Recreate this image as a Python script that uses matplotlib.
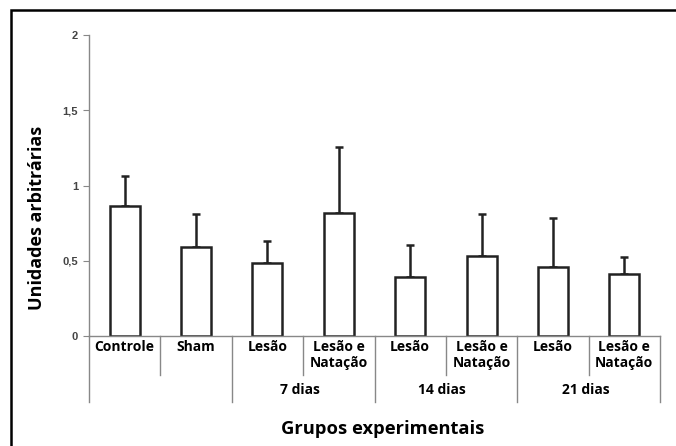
import numpy as np
import matplotlib
matplotlib.use("Agg")
import matplotlib.pyplot as plt
from matplotlib.transforms import blended_transform_factory
from matplotlib.patches import Rectangle

plt.rcParams["font.family"] = ["Open Sans", "DejaVu Sans"]

categorias = ["Controle", "Sham", "Lesão", "Lesão e\nNatação", "Lesão",
              "Lesão e\nNatação", "Lesão", "Lesão e\nNatação"]
medias = [0.866, 0.589, 0.487, 0.815, 0.39, 0.53, 0.456, 0.412]
erros = [0.199, 0.219, 0.144, 0.443, 0.213, 0.28, 0.326, 0.115]
grupos = ["7 dias", "14 dias", "21 dias"]
yticks = [0, 0.5, 1, 1.5, 2]
ytick_labels = ["0", "0,5", "1", "1,5", "2"]

fig = plt.figure(figsize=(6.76, 4.46), dpi=100)
ax = fig.add_axes([89 / 676, 1 - 336 / 446, (660 - 89) / 676, (336 - 35) / 446])

x = np.arange(len(medias))
ax.bar(x, medias, width=0.42, color="white", edgecolor="#222222", linewidth=1.8, zorder=2)
ax.errorbar(x, medias, yerr=[np.zeros(len(erros)), erros], fmt="none",
            ecolor="#222222", elinewidth=1.8, capsize=3, capthick=1.8, zorder=1)

ax.set_xlim(-0.5, len(medias) - 0.5)
ax.set_ylim(0, 2)
ax.set_yticks(yticks)
ax.set_yticklabels(ytick_labels, fontsize=8, fontweight="bold", color="#444444",
                   family=["Liberation Sans", "DejaVu Sans"])
ax.tick_params(axis="y", direction="out", length=4, width=0.8, color="#888888", pad=4)
ax.set_xticks([])
for s in ["top", "right"]:
    ax.spines[s].set_visible(False)
for s in ["left", "bottom"]:
    ax.spines[s].set_color("#888888")
    ax.spines[s].set_linewidth(1.0)

# rotulos das categorias e separadores
tr = blended_transform_factory(ax.transData, ax.transAxes)
for i, lab in enumerate(categorias):
    ax.text(x[i], -0.012, lab, transform=tr, ha="center", va="top",
            fontsize=10, fontweight="bold", linespacing=1.25)

curto = -0.13
longo = -0.22
fronteiras = np.arange(len(medias) + 1) - 0.5
for j, b in enumerate(fronteiras):
    if j in (1, 3, 5, 7):
        y_fim = curto
    else:
        y_fim = longo
    ax.plot([b, b], [0, y_fim], transform=tr, color="#888888", lw=1.0, clip_on=False)

pos_grupos = [2.46, 4.45, 6.46]
for px, g in zip(pos_grupos, grupos):
    ax.text(px, -0.18, g, transform=tr, ha="center", va="center",
            fontsize=10, fontweight="bold")

fig.text(383 / 676, 1 - 429 / 446, "Grupos experimentais", ha="center",
         va="center", fontsize=13.2, fontweight="bold")
fig.text(37 / 676, 1 - 218 / 446, "Unidades arbitrárias", ha="center", va="center",
         rotation=90, fontsize=13, fontweight="bold")

# moldura
fig.patches.append(Rectangle((11 / 676, -0.1), 1.2, 1 - 9.5 / 446 + 0.1,
                             transform=fig.transFigure, fill=False,
                             edgecolor="black", lw=1.8))

fig.savefig("out.png", dpi=100)
